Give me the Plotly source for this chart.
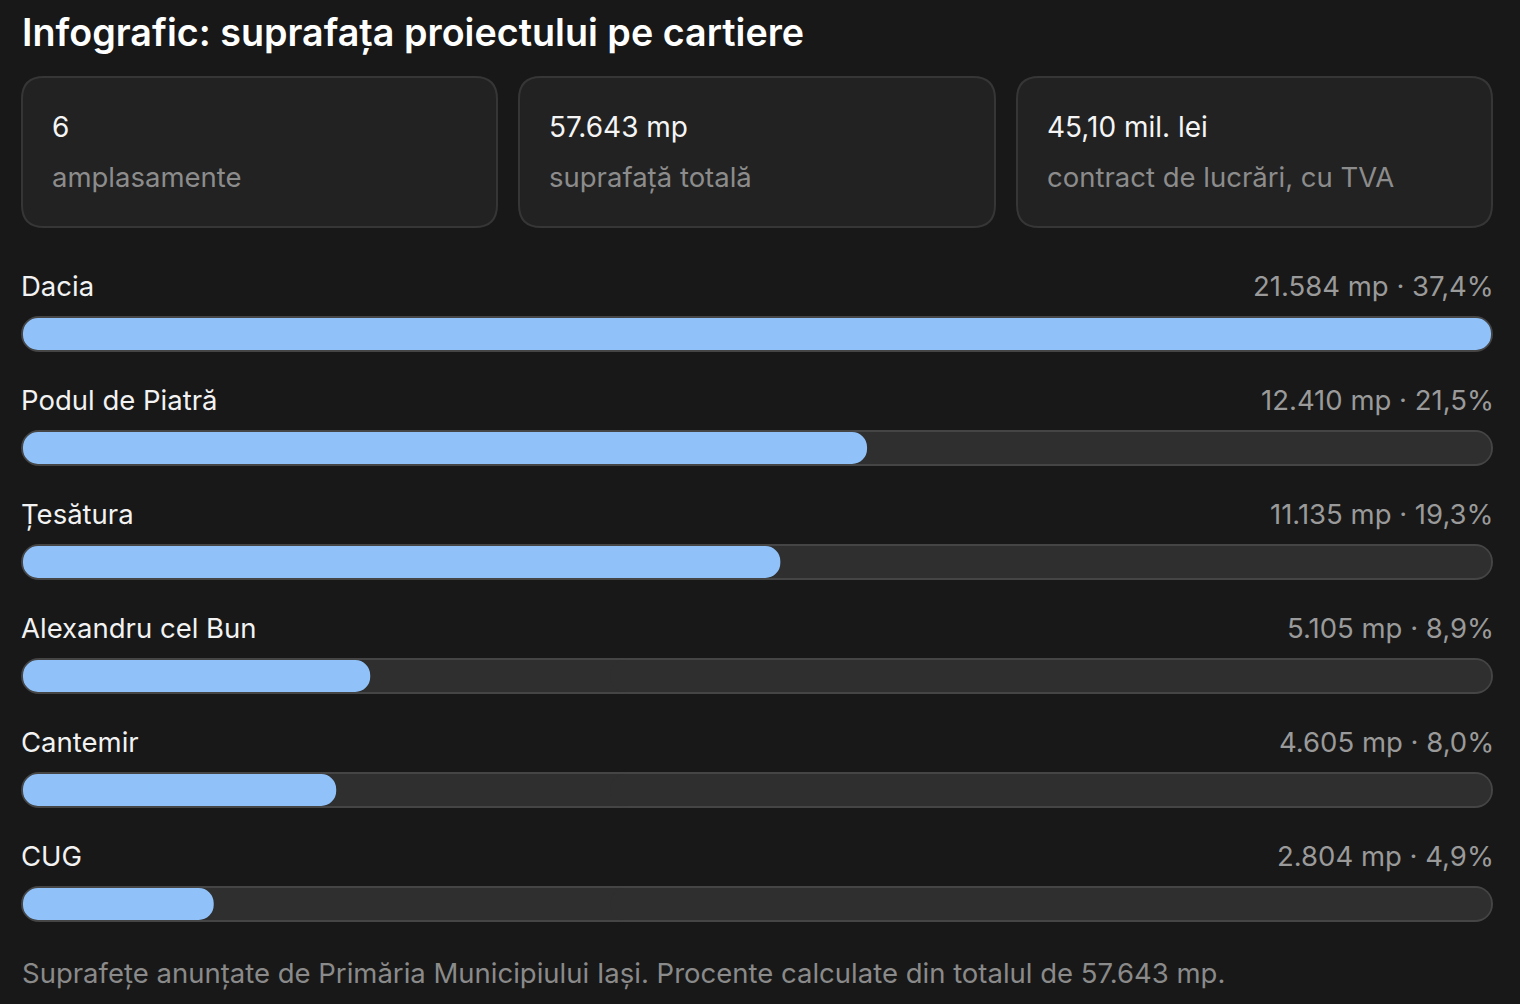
import plotly.graph_objects as go

# date
cartiere = ['Dacia', 'Podul de Piatră', 'Țesătura', 'Alexandru cel Bun', 'Cantemir', 'CUG']
suprafete = [21584, 12410, 11135, 5105, 4605, 2804]
procente = ['37,4%', '21,5%', '19,3%', '8,9%', '8,0%', '4,9%']

card_valori = ['6', '57.643 mp', '45,10 mil. lei']
card_etichete = ['amplasamente', 'suprafață totală', 'contract de lucrări, cu TVA']

titlu = 'Infografic: suprafața proiectului pe cartiere'
nota = 'Suprafețe anunțate de Primăria Municipiului Iași. Procente calculate din totalul de 57.643 mp.'

W, H = 1520, 1004
BG = '#181818'
FONT = 'Inter, Noto Sans, sans-serif'
maxim = max(suprafete)
pad = maxim * 2 / 1470  # ~2px pentru chenarul pistei


def fmt(v):
    return f'{v:,}'.replace(',', '.')


def px(x):
    return x / W


def py(y):
    return 1 - y / H


def rounded_rect(x0, y0, x1, y1, r):
    # coordonate in pixeli -> paper
    X = lambda v: f'{px(v):.5f}'
    Y = lambda v: f'{py(v):.5f}'
    return (f'M {X(x0 + r)} {Y(y0)} L {X(x1 - r)} {Y(y0)} Q {X(x1)} {Y(y0)} {X(x1)} {Y(y0 + r)} '
            f'L {X(x1)} {Y(y1 - r)} Q {X(x1)} {Y(y1)} {X(x1 - r)} {Y(y1)} '
            f'L {X(x0 + r)} {Y(y1)} Q {X(x0)} {Y(y1)} {X(x0)} {Y(y1 - r)} '
            f'L {X(x0)} {Y(y0 + r)} Q {X(x0)} {Y(y0)} {X(x0 + r)} {Y(y0)} Z')


fig = go.Figure()


def pill(start, end, color, width, radius, hover=False):
    # plotly rotunjeste doar capatul barei, asa ca desenam doua jumatati care se suprapun
    starts = list(start)
    ends = list(end)
    mid_a = [s + (e - s) * 0.6 for s, e in zip(starts, ends)]
    mid_b = [s + (e - s) * 0.4 for s, e in zip(starts, ends)]
    common = dict(y=cartiere, orientation='h', width=width, showlegend=False,
                  marker=dict(color=color, cornerradius=radius, line=dict(width=0)))
    fig.add_trace(go.Bar(base=mid_a, x=[s - m for s, m in zip(starts, mid_a)], hoverinfo='skip', **common))
    if hover:
        fig.add_trace(go.Bar(base=mid_b, x=[e - m for e, m in zip(ends, mid_b)],
                             customdata=suprafete, hovertemplate='%{y}: %{customdata} mp<extra></extra>', **common))
    else:
        fig.add_trace(go.Bar(base=mid_b, x=[e - m for e, m in zip(ends, mid_b)], hoverinfo='skip', **common))


n = len(cartiere)
pill([-pad] * n, [maxim + pad] * n, '#454545', 0.316, 18)     # chenar pista
pill([0] * n, [maxim] * n, '#2f2f2f', 0.28, 16)                # pista
pill([0] * n, suprafete, '#90c2f9', 0.28, 16, hover=True)       # valoare

# eticheta + valoare deasupra fiecarei bare
for nume, v, p in zip(cartiere, suprafete, procente):
    fig.add_annotation(x=-pad, y=nume, xref='x', yref='y', text=nume, showarrow=False,
                       xanchor='left', yanchor='middle', yshift=48, xshift=-2,
                       font=dict(family=FONT, size=27.5, color='#f2f2f2'))
    fig.add_annotation(x=maxim + pad, y=nume, xref='x', yref='y', text=f'{fmt(v)} mp · {p}',
                       showarrow=False, xanchor='right', yanchor='middle', yshift=48, xshift=3,
                       font=dict(family=FONT, size=27.5, color='#9a9a9a'))

# carduri
shapes = []
card_x = [(22, 497), (519, 995), (1017, 1492)]
for (x0, x1), val, et in zip(card_x, card_valori, card_etichete):
    shapes.append(dict(type='path', xref='paper', yref='paper', path=rounded_rect(x0, 77, x1, 227, 22),
                       fillcolor='#222222', line=dict(color='#363636', width=2), layer='below'))
    fig.add_annotation(x=px(x0 + 28), y=py(127), xref='paper', yref='paper', text=val, showarrow=False,
                       xanchor='left', yanchor='middle', font=dict(family=FONT, size=28, color='#f5f5f5'))
    fig.add_annotation(x=px(x0 + 28), y=py(177), xref='paper', yref='paper', text=et, showarrow=False,
                       xanchor='left', yanchor='middle', font=dict(family=FONT, size=27.5, color='#8c8c8c'))

fig.add_annotation(x=px(20), y=py(32), xref='paper', yref='paper', text=titlu, showarrow=False,
                   xanchor='left', yanchor='middle',
                   font=dict(family=FONT, size=37.7, color='#ffffff', weight=600))
fig.add_annotation(x=px(20), y=py(973), xref='paper', yref='paper', text=nota, showarrow=False,
                   xanchor='left', yanchor='middle', font=dict(family=FONT, size=27.5, color='#8a8a8a'))

fig.update_layout(
    width=W, height=H, margin=dict(l=0, r=0, t=0, b=0),
    paper_bgcolor=BG, plot_bgcolor=BG, barmode='overlay', shapes=shapes,
    xaxis=dict(domain=[px(21), px(1493)], range=[-pad, maxim + pad], visible=False, fixedrange=True),
    yaxis=dict(domain=[py(961), py(277)], range=[5.5, -0.5], visible=False, fixedrange=True,
               categoryorder='array', categoryarray=cartiere),
)

fig.write_html('out.html', config={'displayModeBar': False},
               post_script="document.body.style.margin='0';document.body.style.background='#181818';")
